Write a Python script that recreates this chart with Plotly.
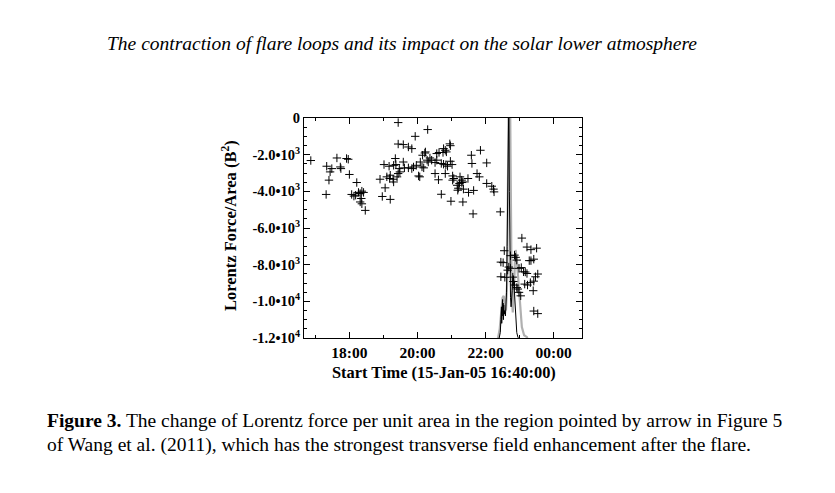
import plotly.graph_objects as go

# Lorentz force per unit area measurements (time of day, value in B^2 units)
pt_times = [
    "16:52", "17:38", "17:55", "17:58", "17:20", "17:29", "17:26", "17:44", "17:45", "18:00",
    "17:24", "17:19", "18:13", "18:04", "18:08", "18:11", "18:16", "18:19", "18:22", "18:25",
    "18:21", "18:19", "18:22", "18:28",
    "19:26", "20:18", "19:56", "19:26", "19:35", "19:44", "19:50", "20:57", "20:58", "20:46",
    "20:49", "20:45", "20:51", "20:13", "20:09", "20:14", "20:22", "20:17", "20:34", "20:38",
    "19:21", "19:01", "19:10", "19:18", "19:22", "19:35", "19:37", "19:44", "19:50", "19:53",
    "19:58", "20:05", "20:08", "20:11", "20:02", "20:04", "20:19", "20:25", "20:34", "20:31",
    "20:37", "20:42", "20:46", "20:50", "20:53", "21:01", "20:58", "20:31", "20:49", "21:02",
    "21:04", "21:02", "21:10", "21:12", "21:15", "21:18", "21:29", "21:14", "21:18", "21:20",
    "21:11", "21:21", "21:30", "21:39", "18:54", "19:06", "19:12", "19:11", "19:17", "19:18",
    "19:24", "19:26", "19:29", "19:28", "19:03", "18:58", "19:12", "20:42", "20:59", "21:20",
    "21:38", "21:51", "21:35", "21:36", "22:02", "21:45", "21:49", "22:02", "22:11", "22:14",
    "22:15", "22:26",
    "23:04", "22:33", "23:13", "23:20", "23:30", "22:44", "22:51", "22:53", "22:55", "22:27",
    "22:31", "23:17", "23:20", "23:25", "22:41", "22:44", "22:39", "22:59", "23:03", "23:07",
    "23:13", "23:10", "23:32", "23:28", "23:25", "22:27", "22:34", "22:48", "22:49", "22:51",
    "22:55", "22:57", "23:09", "23:14", "23:19", "22:59", "23:02", "23:24", "23:25", "23:32",
]
pt_values = [
    -2320, -2180, -2210, -2250, -2630, -2760, -2940, -2670, -2760, -3080,
    -3390, -4170, -3520, -4170, -4260, -4210, -4060, -4120, -3990, -4060,
    -4390, -4580, -4680, -5040,
    -250, -630, -1000, -1420, -1450, -1580, -1670, -1410, -1510, -1670,
    -1760, -1880, -1850, -1910, -2030, -1850, -2180, -2300, -1940, -1880,
    -2210, -2540, -2630, -2580, -2540, -2400, -2720, -2720, -2760, -2670,
    -2580, -2400, -2670, -2720, -3160, -3210, -2400, -2300, -2300, -3030,
    -3370, -2480, -2520, -2550, -2630, -2540, -2360, -2430, -3030, -3160,
    -3300, -3390, -3670, -3830, -3210, -3390, -3300, -3570, -3520, -3490,
    -3940, -3880, -4060, -3950, -3340, -3210, -3120, -3300, -3340, -3490,
    -3210, -3030, -2940, -2760, -3810, -4280, -4440, -4160, -4540, -4580,
    -5230, -1760, -2030, -2480, -2450, -3030, -3210, -3570, -3720, -3880,
    -4030, -5120,
    -6550, -7240, -7040, -7180, -7100, -7510, -7480, -7600, -7750, -7860,
    -7890, -7780, -7780, -7700, -8130, -8200, -8300, -8200, -8160, -8390,
    -8480, -8400, -8510, -8660, -8900, -8660, -8690, -8680, -8920, -9110,
    -9250, -9330, -9060, -9110, -8980, -9510, -9700, -9420, -10530, -10670,
]

# Overplotted flare light curve (scaled into the axis), gray smooth version
gray_times = [
    "22:17", "22:22", "22:25", "22:28", "22:30", "22:32", "22:34", "22:36", "22:38", "22:40",
    "22:41", "22:43", "22:44", "22:46", "22:48", "22:50", "22:52", "22:53", "22:55", "22:57",
    "22:59", "23:01", "23:04", "23:08", "23:13", "23:16",
]
gray_values = [
    -12300, -12000, -11500, -10200, -9800, -9700, -10100, -10500, -9000, -3000,
    2000, 2000, -3000, -9500, -10600, -9500, -7600, -7200, -7700, -8600,
    -9300, -10400, -11400, -11850, -11950, -12300,
]
# black noisy version
black_times = [
    "22:24:00", "22:26:00", "22:27:00", "22:28:00", "22:28:30", "22:29:00", "22:29:30", "22:30:00",
    "22:30:30", "22:31:00", "22:31:30", "22:32:00", "22:33:00", "22:34:00", "22:35:00", "22:36:00",
    "22:37:00", "22:38:00", "22:39:00", "22:40:00", "22:41:00", "22:42:00", "22:43:00", "22:44:00",
    "22:45:00", "22:46:00", "22:47:00", "22:48:00", "22:49:00", "22:50:00", "22:51:00", "22:52:00",
    "22:53:00", "22:55:00", "22:57:00", "22:59:00",
]
black_values = [
    -12000, -11700, -11000, -10300, -11200, -10000, -10900, -9900,
    -10800, -10100, -11000, -10200, -10700, -10500, -10800, -10300,
    -9500, -7000, -2500, 1000, 1000, -4000, -8500, -9800,
    -10300, -10000, -9400, -8800, -8600, -9000, -9700, -10500,
    -11200, -11700, -11950, -12050,
]

y_tickvals = [0, -2000, -4000, -6000, -8000, -10000, -12000]
y_ticktext = ["0", "-2.0•10<sup>3</sup>", "-4.0•10<sup>3</sup>", "-6.0•10<sup>3</sup>",
              "-8.0•10<sup>3</sup>", "-1.0•10<sup>4</sup>", "-1.2•10<sup>4</sup>"]


def to_dt(t):
    h = int(t.split(":")[0])
    day = "2005-01-15" if h >= 12 else "2005-01-16"
    return f"{day} {t}"


SERIF = "Liberation Serif, Times New Roman, serif"

fig = go.Figure()
fig.add_trace(go.Scatter(
    x=[to_dt(t) for t in gray_times], y=gray_values, mode="lines",
    line=dict(color="#b0b0b0", width=2.2), hoverinfo="skip", showlegend=False))
fig.add_trace(go.Scatter(
    x=[to_dt(t) for t in black_times], y=black_values, mode="lines",
    line=dict(color="black", width=1), hoverinfo="skip", showlegend=False))
fig.add_trace(go.Scatter(
    x=[to_dt(t) for t in pt_times], y=pt_values, mode="markers",
    marker=dict(symbol="cross-thin", size=6, line=dict(color="black", width=1)),
    showlegend=False, cliponaxis=True))

fig.update_xaxes(
    type="date", range=["2005-01-15 16:40", "2005-01-16 00:50"],
    tick0="2005-01-15 18:00", dtick=2 * 3600 * 1000, tickformat="%H:%M",
    ticks="inside", ticklen=6, tickwidth=1, tickcolor="black",
    minor=dict(dtick=3600 * 1000, ticks="inside", ticklen=3, tickcolor="black", tickwidth=1),
    showline=True, linecolor="black", linewidth=1, mirror="ticks",
    showgrid=False, zeroline=False,
    tickfont=dict(family=SERIF, size=15.5, color="black", weight="bold"),
)
fig.update_yaxes(
    range=[-12000, 0], tickmode="array", tickvals=y_tickvals, ticktext=y_ticktext,
    ticks="inside", ticklen=6, tickwidth=1, tickcolor="black",
    minor=dict(dtick=500, tick0=0, ticks="inside", ticklen=3, tickcolor="black", tickwidth=1),
    showline=True, linecolor="black", linewidth=1, mirror="ticks",
    showgrid=False, zeroline=False,
    tickfont=dict(family=SERIF, size=14.5, color="black", weight="bold"),
)

W, H = 835, 493
OFF = 8  # page body margin of the html page
L, R, T, B = 304 - OFF, 582 - OFF, 118 - OFF, 338 - OFF
pw, ph = R - L, B - T


def px(x):
    return (x - OFF - L) / pw


def py(y):
    return (B - (y - OFF)) / ph


annotations = [
    dict(text="<i>The contraction of flare loops and its impact on the solar lower atmosphere</i>",
         x=px(402), y=py(43), xref="paper", yref="paper", showarrow=False,
         xanchor="center", yanchor="middle",
         font=dict(family=SERIF, size=19.5, color="black")),
    dict(text="<b>Start Time (15-Jan-05 16:40:00)</b>",
         x=px(444), y=py(372), xref="paper", yref="paper", showarrow=False,
         xanchor="center", yanchor="middle",
         font=dict(family=SERIF, size=16.4, color="black")),
    dict(text="<b>Lorentz Force/Area (B<sup>2</sup>)</b>",
         x=px(229), y=py(226), xref="paper", yref="paper", showarrow=False,
         xanchor="center", yanchor="middle", textangle=-90,
         font=dict(family=SERIF, size=16.5, color="black")),
    dict(text="<b>Figure 3.</b> The change of Lorentz force per unit area in the region pointed by arrow in Figure 5",
         x=px(45), y=py(420), xref="paper", yref="paper", showarrow=False,
         xanchor="left", yanchor="middle",
         font=dict(family=SERIF, size=19.5, color="black")),
    dict(text="of Wang et al. (2011), which has the strongest transverse field enhancement after the flare.",
         x=px(45), y=py(445), xref="paper", yref="paper", showarrow=False,
         xanchor="left", yanchor="middle",
         font=dict(family=SERIF, size=19.5, color="black")),
]

fig.update_layout(
    width=W, height=H,
    margin=dict(l=L, r=W - R, t=T, b=H - B, pad=0),
    paper_bgcolor="white", plot_bgcolor="white",
    annotations=annotations,
    font=dict(family=SERIF, color="black"),
)

fig.write_html("out.html")
